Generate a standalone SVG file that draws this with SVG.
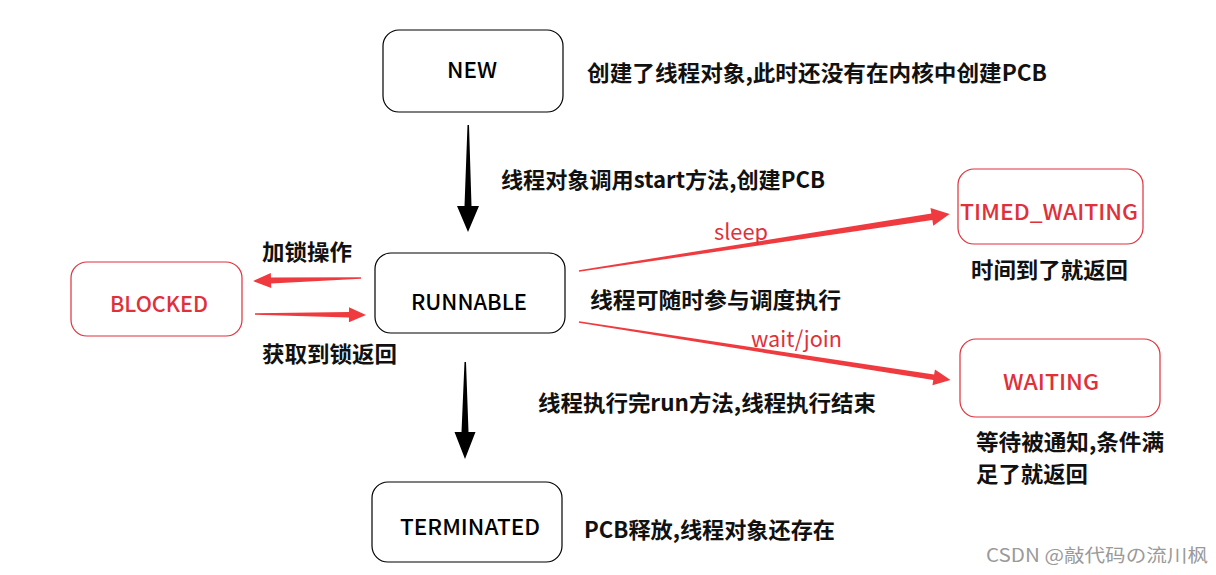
<svg xmlns="http://www.w3.org/2000/svg" width="1216" height="575" viewBox="0 0 1216 575">
<style>
.box{fill:#fff;stroke:#000;stroke-width:1.2}
.rbox{fill:#fff;stroke:#e0303a;stroke-width:1.2}
.lbl{font-family:"Noto Sans CJK SC","Liberation Sans",sans-serif;font-size:22px;font-weight:500;text-anchor:middle;fill:#000}
.rlbl{font-family:"Noto Sans CJK SC","Liberation Sans",sans-serif;font-size:22px;font-weight:500;text-anchor:middle;fill:#e0303a}
.note{font-family:"Noto Sans CJK SC","Liberation Sans",sans-serif;font-size:22px;font-weight:bold;fill:#111}
.rnote{font-family:"Noto Sans CJK SC","Liberation Sans",sans-serif;font-size:22px;fill:#e0303a}
.red{fill:#ef3b3f}
.blk{fill:#000}
.wm{font-family:"Noto Sans CJK SC","Liberation Sans",sans-serif;font-size:18px;fill:#9a9a9a}
</style>
<rect width="1216" height="575" fill="#fff"/>

<g id="connectors">
  <!-- NEW -> RUNNABLE -->
  <polygon class="blk" points="467.5,125 469,125 471.5,206 479,206 468,232 457,206 464.5,206"/>
  <!-- RUNNABLE -> TERMINATED -->
  <polygon class="blk" points="464.5,362 466,362 468.5,432 475.5,432 465,459 454.5,432 461.5,432"/>
  <!-- RUNNABLE -> BLOCKED -->
  <polygon class="red" transform="translate(361,278) rotate(178.4)" points="0,-0.8 90,-3 90,-7.5 108,0 90,7.5 90,3 0,0.8"/>
  <!-- BLOCKED -> RUNNABLE -->
  <polygon class="red" transform="translate(255,314) rotate(0.5)" points="0,-0.8 94,-2.8 94,-7.5 111,0 94,7.5 94,2.8 0,0.8"/>
  <!-- RUNNABLE -> TIMED_WAITING -->
  <polygon class="red" transform="translate(579,271) rotate(-8.73)" points="0,-0.8 357,-3.3 357,-9 375,0 357,9 357,3.3 0,0.8"/>
  <!-- RUNNABLE -> WAITING -->
  <polygon class="red" transform="translate(579,322) rotate(8.86)" points="0,-0.8 359,-2.8 359,-8 376,0 359,8 359,2.8 0,0.8"/>
  <text class="rnote" x="714" y="240" textLength="54" lengthAdjust="spacingAndGlyphs">sleep</text>
  <text class="rnote" x="751" y="347" textLength="91" lengthAdjust="spacingAndGlyphs">wait/join</text>
</g>

<g id="node-new">
  <rect class="box" x="383" y="30" width="180" height="82" rx="16"/>
  <text class="lbl" x="472" y="78" textLength="50" lengthAdjust="spacingAndGlyphs">NEW</text>
</g>
<g id="node-runnable">
  <rect class="box" x="375" y="253" width="190" height="80" rx="16"/>
  <text class="lbl" x="469" y="310" textLength="116" lengthAdjust="spacingAndGlyphs">RUNNABLE</text>
</g>
<g id="node-blocked">
  <rect class="rbox" x="71" y="262" width="171" height="74" rx="16"/>
  <text class="rlbl" x="159" y="312" textLength="98" lengthAdjust="spacingAndGlyphs">BLOCKED</text>
</g>
<g id="node-timed-waiting">
  <rect class="rbox" x="958" y="169" width="185" height="75" rx="16"/>
  <text class="rlbl" x="1049" y="220" textLength="178" lengthAdjust="spacingAndGlyphs">TIMED_WAITING</text>
</g>
<g id="node-waiting">
  <rect class="rbox" x="960" y="339" width="200" height="78" rx="16"/>
  <text class="rlbl" x="1051" y="390" textLength="96" lengthAdjust="spacingAndGlyphs">WAITING</text>
</g>
<g id="node-terminated">
  <rect class="box" x="372" y="482" width="190" height="80" rx="16"/>
  <text class="lbl" x="470" y="535" textLength="140" lengthAdjust="spacingAndGlyphs">TERMINATED</text>
</g>

<g id="notes">
  <text class="note" x="587" y="81" textLength="460" lengthAdjust="spacingAndGlyphs">创建了线程对象,此时还没有在内核中创建PCB</text>
  <text class="note" x="501" y="188" textLength="324" lengthAdjust="spacingAndGlyphs">线程对象调用start方法,创建PCB</text>
  <text class="note" x="262" y="260" textLength="90" lengthAdjust="spacingAndGlyphs">加锁操作</text>
  <text class="note" x="262" y="362" textLength="135" lengthAdjust="spacingAndGlyphs">获取到锁返回</text>
  <text class="note" x="590" y="308" textLength="251" lengthAdjust="spacingAndGlyphs">线程可随时参与调度执行</text>
  <text class="note" x="971" y="278" textLength="157" lengthAdjust="spacingAndGlyphs">时间到了就返回</text>
  <text class="note" x="538" y="411" textLength="338" lengthAdjust="spacingAndGlyphs">线程执行完run方法,线程执行结束</text>
  <text class="note" x="976" y="450" textLength="188" lengthAdjust="spacingAndGlyphs">等待被通知,条件满</text>
  <text class="note" x="976" y="482" textLength="112" lengthAdjust="spacingAndGlyphs">足了就返回</text>
  <text class="note" x="584" y="538" textLength="251" lengthAdjust="spacingAndGlyphs">PCB释放,线程对象还存在</text>
  <text class="wm" x="986" y="562" textLength="222" lengthAdjust="spacingAndGlyphs">CSDN @敲代码の流川枫</text>
</g>
</svg>
